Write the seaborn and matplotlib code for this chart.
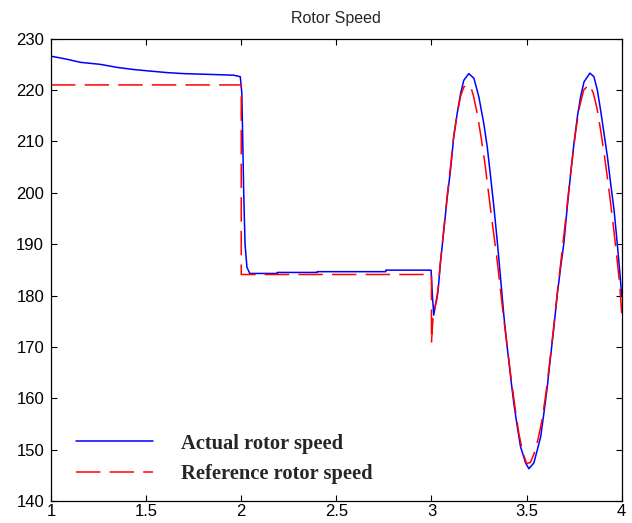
import matplotlib
matplotlib.use("Agg")
import matplotlib.pyplot as plt
import seaborn as sns
import pandas as pd

# ---- data ----
actual_t = [1.0, 1.084, 1.155, 1.26, 1.35, 1.435, 1.52, 1.61, 1.70, 1.79, 1.96, 1.995,
            2.003, 2.008, 2.013, 2.02, 2.03, 2.045, 2.19, 2.19, 2.40, 2.40, 2.76, 2.76,
            2.998, 3.005, 3.012, 3.02, 3.035, 3.047, 3.065, 3.083, 3.1, 3.117, 3.135,
            3.153, 3.17, 3.196, 3.223, 3.249, 3.275, 3.293, 3.311, 3.328, 3.346, 3.363,
            3.381, 3.398, 3.416, 3.433, 3.451, 3.468, 3.495, 3.512, 3.538, 3.556, 3.574,
            3.591, 3.609, 3.626, 3.644, 3.662, 3.679, 3.696, 3.714, 3.732, 3.749, 3.767,
            3.784, 3.802, 3.833, 3.854, 3.872, 3.889, 3.907, 3.925, 3.942, 3.960, 3.977,
            3.99, 4.0]
actual_w = [226.6, 226.0, 225.4, 225.0, 224.4, 224.0, 223.7, 223.4, 223.2, 223.1, 222.9, 222.6,
            219.5, 210.0, 200.0, 190.0, 185.5, 184.3, 184.3, 184.5, 184.5, 184.65, 184.65, 184.95,
            184.95, 180.0, 176.2, 178.0, 181.0, 186.3, 192.7, 199.2, 204.4, 210.9, 215.4,
            219.3, 221.9, 223.2, 222.3, 218.7, 213.5, 209.0, 203.1, 197.3, 190.5, 183.5,
            175.9, 170.0, 164.2, 159.0, 154.5, 150.6, 147.4, 146.3, 147.4, 149.9, 152.5,
            157.1, 162.3, 168.1, 174.0, 180.4, 185.5, 190.2, 197.3, 203.8, 209.6, 214.8,
            218.7, 221.6, 223.3, 222.6, 220.0, 216.1, 211.6, 207.0, 201.8, 196.6, 190.0,
            184.5, 180.0]

ref_t = [1.0, 2.0, 2.0, 3.0, 3.0, 3.005, 3.01, 3.03, 3.047, 3.065, 3.083, 3.1, 3.117,
         3.135, 3.153, 3.17, 3.19, 3.205, 3.22, 3.24, 3.26, 3.28, 3.30, 3.32, 3.34, 3.36,
         3.38, 3.40, 3.42, 3.44, 3.46, 3.48, 3.50, 3.52, 3.54, 3.56, 3.58, 3.60, 3.62,
         3.64, 3.66, 3.68, 3.70, 3.72, 3.74, 3.76, 3.78, 3.80, 3.83, 3.85, 3.87, 3.89,
         3.91, 3.93, 3.95, 3.97, 3.99, 4.0]
ref_w = [221.0, 221.0, 184.1, 184.1, 170.8, 174.0, 176.5, 179.5, 186.5, 193.0, 199.5, 205.0, 211.0,
         215.3, 218.8, 220.6, 221.0, 220.8, 219.0, 215.5, 211.0, 206.0, 200.0, 194.0, 188.5, 182.0,
         175.5, 169.5, 163.5, 158.0, 153.0, 149.5, 147.3, 147.5, 149.3, 152.0, 155.5, 160.5, 166.5,
         173.0, 180.0, 186.5, 193.0, 200.0, 206.5, 212.5, 217.0, 220.0, 221.1, 219.5, 216.5, 212.0,
         207.0, 201.5, 195.5, 189.0, 182.0, 176.5]

x_ticks = [1, 1.5, 2, 2.5, 3, 3.5, 4]
x_tick_labels = ["1", "1.5", "2", "2.5", "3", "3.5", "4"]
y_ticks = [140, 150, 160, 170, 180, 190, 200, 210, 220, 230]
labels = ["Actual rotor speed", "Reference rotor speed"]
title = "Rotor Speed"

sns.set_style("ticks")
plt.rcParams["font.family"] = ["Liberation Sans", "DejaVu Sans"]

fig = plt.figure(figsize=(6.32, 5.23), dpi=100)
ax = fig.add_axes([0.0807, 0.042, 0.903, 0.884])

df_a = pd.DataFrame({"t": actual_t, "w": actual_w})
df_r = pd.DataFrame({"t": ref_t, "w": ref_w})

sns.lineplot(data=df_a, x="t", y="w", ax=ax, sort=False, estimator=None,
             color="#0000FF", lw=1.1, label=labels[0])
sns.lineplot(data=df_r, x="t", y="w", ax=ax, sort=False, estimator=None,
             color="#FF0000", lw=1.1, label=labels[1], dashes=False)
ax.lines[-1].set_dashes((16, 6))

ax.set_xlim(1, 4)
ax.set_ylim(140, 230)
ax.set_xticks(x_ticks)
ax.set_xticklabels(x_tick_labels)
ax.set_yticks(y_ticks)
ax.set_xlabel("")
ax.set_ylabel("")
ax.tick_params(direction="in", length=4.5, width=0.8, top=True, right=True,
               labelsize=12, colors="black")
ax.tick_params(axis="x", pad=2)
ax.tick_params(axis="y", pad=5)
for s in ax.spines.values():
    s.set_visible(True)
    s.set_linewidth(0.9)
    s.set_color("black")

ax.set_title(title, fontsize=11.5, pad=11)

leg = ax.legend(loc="lower left", bbox_to_anchor=(0.012, -0.003), frameon=False,
                prop={"family": "Liberation Serif", "weight": "bold", "size": 14.8},
                handlelength=3.75, handletextpad=1.36, labelspacing=0.5)

fig.savefig("out.png", dpi=100)
